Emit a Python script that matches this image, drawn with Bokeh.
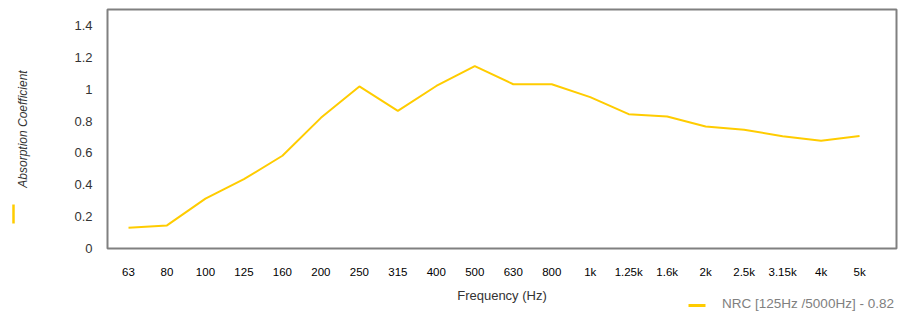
from bokeh.plotting import figure
from bokeh.models import (FixedTicker, Range1d, LinearAxis, ColumnDataSource)
from bokeh.embed import file_html
from bokeh.resources import INLINE

frequencies = ["63", "80", "100", "125", "160", "200", "250", "315", "400", "500",
               "630", "800", "1k", "1.25k", "1.6k", "2k", "2.5k", "3.15k", "4k", "5k"]
absorption = [0.13, 0.145, 0.313, 0.435, 0.582, 0.82, 1.017, 0.864, 1.02, 1.145,
              1.031, 1.031, 0.95, 0.843, 0.829, 0.766, 0.745, 0.705, 0.676, 0.706]
y_ticks = [0, 0.2, 0.4, 0.6, 0.8, 1, 1.2, 1.4]
y_tick_labels = ["0", "0.2", "0.4", "0.6", "0.8", "1", "1.2", "1.4"]
series_name = "NRC [125Hz /5000Hz] - 0.82"

FONT = "Liberation Sans"
YELLOW = "#FFCC00"

# extent (plot data space) of the key swatches and position of the key text
LEFT_SWATCH_Y = (0.159, 0.2755)
KEY_SWATCH_X = (14.554, 14.996)
KEY_TEXT_X = 17.66

x_idx = list(range(len(frequencies)))
src = ColumnDataSource(dict(x=x_idx, y=absorption))

p = figure(width=906, height=313, output_backend="svg", toolbar_location=None,
           x_range=Range1d(-0.546, 19.96), y_range=Range1d(0, 1.5),
           min_border_left=107, min_border_right=10, min_border_top=9, min_border_bottom=59)
p.background_fill_color = "white"
p.border_fill_color = "white"
p.outline_line_color = "#808080"
p.outline_line_width = 2
p.xgrid.grid_line_color = None
p.ygrid.grid_line_color = None

r = p.line("x", "y", source=src, line_color=YELLOW, line_width=2)


def bare(axis):
    axis.major_tick_line_color = None
    axis.minor_tick_line_color = None
    axis.major_tick_out = 0
    axis.major_tick_in = 0
    axis.minor_tick_out = 0
    axis.minor_tick_in = 0


# x axis
xa = p.xaxis[0]
bare(xa)
xa.ticker = FixedTicker(ticks=x_idx)
xa.major_label_overrides = {i: f for i, f in zip(x_idx, frequencies)}
xa.axis_line_color = None
xa.major_label_standoff = 17
xa.major_label_text_font = FONT
xa.major_label_text_font_size = "11.5px"
xa.major_label_text_color = "#000000"
xa.axis_label = "Frequency (Hz)"
xa.axis_label_text_font = FONT
xa.axis_label_text_font_style = "normal"
xa.axis_label_text_font_size = "13px"
xa.axis_label_text_color = "#333333"
xa.axis_label_standoff = 7

# y axis
ya = p.yaxis[0]
bare(ya)
ya.ticker = FixedTicker(ticks=y_ticks)
ya.major_label_overrides = {t: l for t, l in zip(y_ticks, y_tick_labels)}
ya.axis_line_color = None
ya.major_label_standoff = 15
ya.major_label_text_font = FONT
ya.major_label_text_font_size = "13px"
ya.major_label_text_color = "#333333"
ya.axis_label = "Absorption Coefficient"
ya.axis_label_text_font = FONT
ya.axis_label_text_font_style = "italic"
ya.axis_label_text_font_size = "12px"
ya.axis_label_text_color = "#333333"
ya.axis_label_standoff = 41

# vertical yellow key swatch under the y-axis title (zero-size outer left axis)
left_key = LinearAxis(ticker=FixedTicker(ticks=[]), bounds=LEFT_SWATCH_Y,
                      axis_line_color=YELLOW, axis_line_width=2.5)
bare(left_key)
p.add_layout(left_key, "left")

# horizontal yellow key swatch of the series (zero-size axis under the x axis)
key_swatch = LinearAxis(ticker=FixedTicker(ticks=[]), bounds=KEY_SWATCH_X,
                        axis_line_color=YELLOW, axis_line_width=3)
bare(key_swatch)
p.add_layout(key_swatch, "below")

# key text of the series, pulled up onto the row of the x-axis title
key_text = LinearAxis(ticker=FixedTicker(ticks=[KEY_TEXT_X]),
                      major_label_overrides={KEY_TEXT_X: series_name},
                      axis_line_color=None, major_label_standoff=-10,
                      major_label_text_font=FONT, major_label_text_font_size="13.5px",
                      major_label_text_color="#808080")
bare(key_text)
p.add_layout(key_text, "below")

open("out.html", "w").write(file_html(p, INLINE))
